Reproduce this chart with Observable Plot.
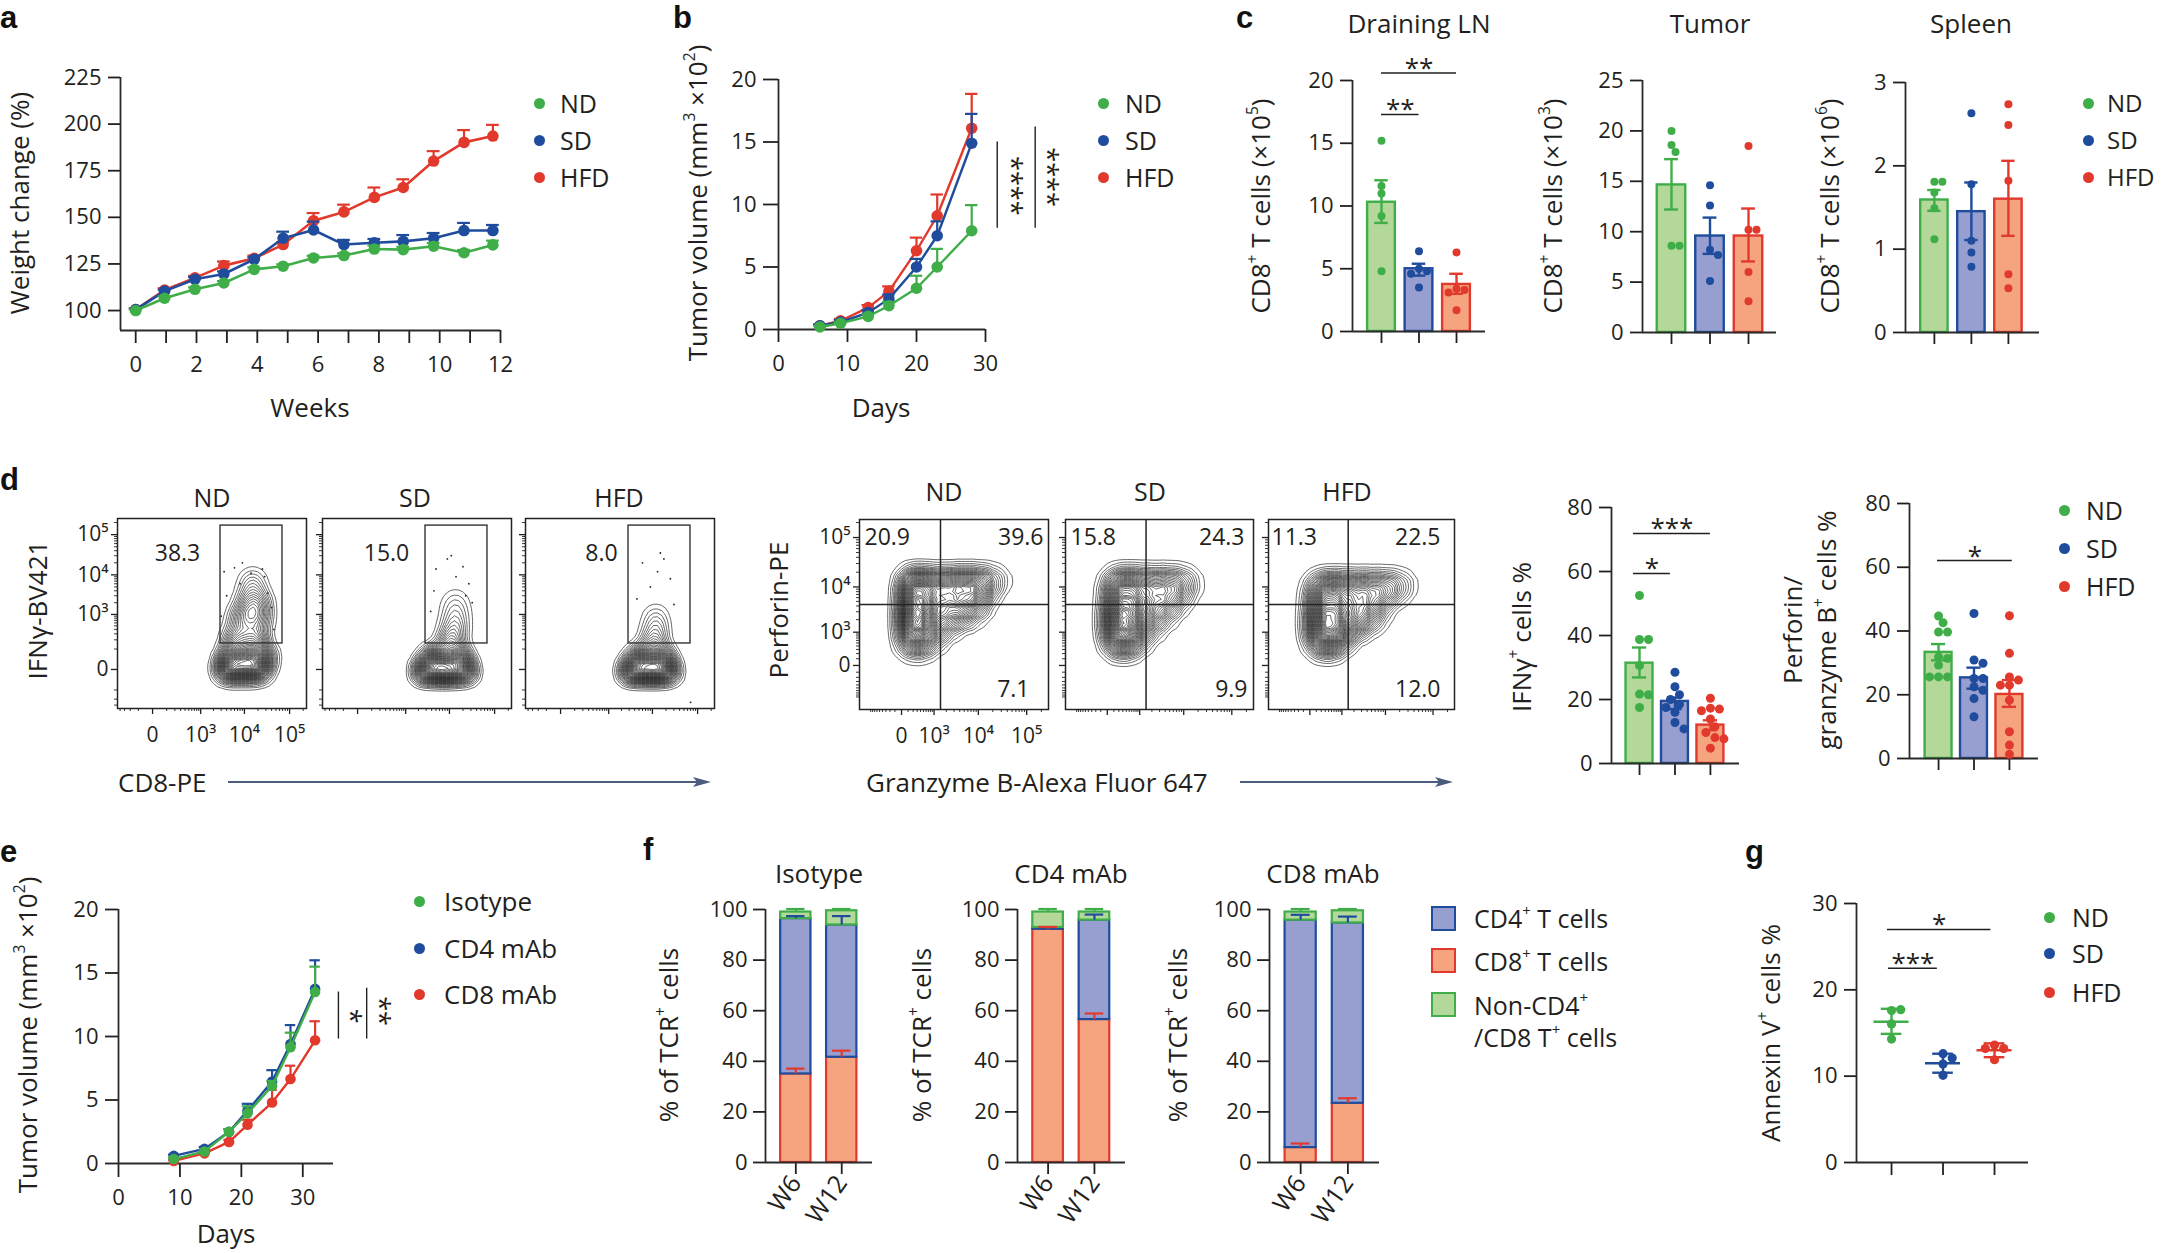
<!DOCTYPE html>
<html>
<head>
<meta charset="utf-8">
<script src="https://cdn.jsdelivr.net/npm/d3@7"></script>
<script src="https://cdn.jsdelivr.net/npm/@observablehq/plot@0.6"></script>
<style>
html,body{margin:0;padding:0;background:#fff;}
#fig{position:relative;width:2165px;height:1253px;overflow:hidden;background:#fff;font-family:"Open Sans",Roboto,"Liberation Sans",sans-serif;color:#231f20;}
.t{position:absolute;white-space:nowrap;line-height:1;}
.t sup{font-size:0.6em;line-height:0;vertical-align:0.75em;}
.L{position:absolute;font-family:"Liberation Sans",Arial,sans-serif;font-weight:bold;line-height:1;font-size:31px;color:#111;}
.dot{position:absolute;border-radius:50%;}
.sq{position:absolute;box-sizing:border-box;}
#fig svg{position:absolute;overflow:visible;}
</style>
</head>
<body>
<div id="fig"></div>
<script>
// ================= DATA =================
const groups = ["ND", "SD", "HFD"];

// a: weight change (%)
const weeksA = [0, 0.95, 1.95, 2.9, 3.9, 4.85, 5.85, 6.85, 7.85, 8.8, 9.8, 10.8, 11.75];
const weightND = [100, 106.6, 111.4, 114.8, 122.1, 123.8, 128.2, 129.5, 133.0, 132.7, 134.5, 131.0, 135.2];
const weightNDtop = [100.6, 107.6, 112.4, 115.8, 123.2, 124.8, 129.4, 130.7, 134.8, 134.2, 136.3, 132.5, 137.5];
const weightSD = [100.5, 110.4, 116.8, 119.6, 127.5, 138.8, 143.2, 135.4, 136.4, 137.1, 138.8, 142.9, 142.9];
const weightSDtop = [101.1, 111.2, 118.0, 121.0, 128.6, 142.3, 147.7, 137.9, 138.4, 140.5, 141.6, 147.0, 145.9];
const weightHFD = [100.5, 111.0, 117.5, 124.1, 128.0, 135.4, 148.2, 152.9, 160.7, 166.0, 180.2, 190.2, 193.6];
const weightHFDtop = [101.1, 112.0, 118.6, 126.3, 129.5, 136.8, 152.3, 156.8, 166.0, 170.4, 185.5, 196.8, 199.6];

// b: tumour volume
const daysB = [6, 9, 13, 16, 20, 23, 28];
const tumND = [0.2, 0.5, 1.05, 1.9, 3.3, 5.0, 7.9];
const tumNDtop = [0.3, 0.6, 1.2, 2.2, 4.3, 6.45, 9.95];
const tumSD = [0.3, 0.6, 1.35, 2.45, 5.0, 7.5, 14.9];
const tumSDtop = [0.4, 0.75, 1.55, 2.8, 5.65, 8.65, 17.25];
const tumHFD = [0.3, 0.7, 1.75, 3.05, 6.3, 9.1, 16.1];
const tumHFDtop = [0.4, 0.85, 1.95, 3.45, 7.35, 10.8, 18.85];
const sigB = [
  {x: 31.7, y1: 8.1, y2: 15.0, tx: 33.6, ty: 11.5, label: "****"},
  {x: 37.2, y1: 8.1, y2: 16.2, tx: 38.9, ty: 12.2, label: "****"}
];

// c: CD8+ T cells
const dlnMean = [10.3, 5.0, 3.75], dlnLo = [8.65, 4.45, 3.0], dlnHi = [12.05, 5.4, 4.6];
const dlnND = [15.2, 11.6, 11.0, 9.2, 4.8], dlnSD = [6.4, 5.0, 4.8, 4.6, 3.5], dlnHFD = [6.3, 3.4, 3.3, 3.1, 1.7];
const sigDLN = [{x1: 0, x2: 2, y: 20.6, label: "**"}, {x1: 0, x2: 1, y: 17.3, label: "**"}];
const tumCMean = [14.64, 9.57, 9.57], tumCLo = [12.2, 7.8, 7.05], tumCHi = [17.2, 11.4, 12.3];
const tumCND = [20.0, 18.6, 17.9, 8.6, 8.6], tumCSD = [14.6, 12.6, 8.2, 7.7, 5.1], tumCHFD = [18.5, 10.2, 10.2, 6.0, 3.1];
const splMean = [1.59, 1.45, 1.6], splLo = [1.46, 1.11, 1.16], splHi = [1.71, 1.8, 2.06];
const splND = [1.81, 1.81, 1.68, 1.49, 1.12], splSD = [2.63, 1.78, 1.1, 0.96, 0.79], splHFD = [2.74, 2.49, 1.82, 0.7, 0.53];

// d: flow cytometry (contour cluster centres: fluorescence x, y, relative weight; sparse events x, y)
const ifnBlobND = [[4190, 3, 8], [9070, 3, 9], [19500, 3, 8], [5420, 50, 6], [12900, 50, 7], [25100, 50, 5], [7000, 219, 5], [17700, 219, 5], [9070, 785, 4], [19500, 785, 4], [11700, 1910, 3], [21600, 1910, 3], [15100, 4550, 2], [15100, 8100, 1]];
const ifnBlobSD = [[3210, -3, 8], [7790, -3, 9], [19500, -3, 7], [4640, 39, 6], [15100, 39, 6], [10550, 154, 4], [12900, 423, 2.5], [13600, 1060, 1.5], [13600, 2270, 0.8]];
const ifnBlobHFD = [[3780, -3, 8], [9070, -3, 9], [19500, -3, 7], [5420, 39, 6], [15100, 39, 6], [10550, 154, 3.5], [11700, 423, 1.8], [11700, 940, 0.9]];
const ifnEvtND = [[3500, 12000], [6000, 15000], [9000, 20000], [14000, 11000], [28000, 9000], [4000, 3000], [33000, 3500], [3000, 900], [40000, 1500], [25000, 14000], [8000, 6000], [45000, 400]];
const ifnEvtSD = [[5000, 14000], [9000, 25000], [14000, 9000], [20000, 16000], [27000, 6000], [4500, 4000], [32000, 2000], [3800, 1200], [11000, 30000], [23000, 3000]];
const ifnEvtHFD = [[6000, 20000], [13000, 12000], [9000, 5000], [18000, 25000], [25000, 8000], [4500, 2500], [30000, 1800], [15000, 35000], [70000, -250]];
const ifnGate = [2900, 69600, 154, 168000];
const ifnPct = ["38.3", "15.0", "8.0"];
const gzBlobND = [
  [166, 12900, 5], [431, 12900, 5], [1030, 12900, 4], [2371, 12900, 5], [5096, 12900, 6], [10620, 12900, 5], [21830, 12900, 3],
  [166, 7320, 6], [431, 7320, 5], [1030, 7320, 5], [2371, 7320, 5], [5096, 7320, 6], [10620, 7320, 4],
  [166, 3895, 7], [431, 3895, 6], [1030, 3895, 4], [2371, 3895, 4], [5096, 3895, 4], [9640, 3895, 3],
  [166, 2124, 8], [431, 2124, 6], [1158, 2124, 4], [2632, 2124, 3], [5096, 2124, 2],
  [166, 1043, 7], [539, 1043, 5], [1376, 1043, 3],
  [200, 481, 5], [578, 481, 3]
];
const gzBlobSD = [
  [166, 12900, 4], [431, 12900, 4], [1030, 12900, 4], [2371, 12900, 4], [5096, 12900, 4], [10620, 12900, 3],
  [166, 7320, 5], [431, 7320, 5], [1030, 7320, 4], [2371, 7320, 4], [5096, 7320, 4], [9640, 7320, 2],
  [166, 3895, 6], [431, 3895, 6], [1030, 3895, 5], [2371, 3895, 4], [5096, 3895, 3],
  [166, 2124, 8], [431, 2124, 7], [1158, 2124, 5], [2632, 2124, 3],
  [166, 1043, 8], [539, 1043, 6], [1376, 1043, 3],
  [200, 481, 6], [578, 481, 4]
];
const gzBlobHFD = [
  [166, 10700, 3], [431, 10700, 4], [1030, 10700, 4], [2371, 10700, 4], [5096, 10700, 4], [10620, 10700, 4], [21830, 10700, 2.5],
  [166, 6400, 4], [431, 6400, 5], [1030, 6400, 4], [2371, 6400, 4], [5096, 6400, 4], [10620, 6400, 3],
  [166, 3600, 5], [431, 3600, 6], [1030, 3600, 5], [2371, 3600, 4], [5096, 3600, 4],
  [166, 2000, 6], [431, 2000, 7], [1158, 2000, 6], [2632, 2000, 5], [5096, 2000, 2],
  [166, 1043, 7], [539, 1043, 7], [1376, 1043, 5],
  [200, 481, 5], [578, 481, 5]
];
const gzQuad = [1450, 4300];
const gzPct = [["20.9", "39.6", "7.1"], ["15.8", "24.3", "9.9"], ["11.3", "22.5", "12.0"]];

const ifnMean = [31.35, 19.4, 12.0], ifnLo = [26.9, 17.0, 10.4], ifnHi = [36.25, 20.6, 13.5];
const ifnND = [52.5, 38.75, 38.75, 30.6, 21.7, 21.5, 17.5];
const ifnSD = [28.5, 24.0, 21.5, 20.0, 18.5, 17.5, 16.0, 12.8, 10.8];
const ifnHFD = [20.4, 17.3, 17.0, 16.5, 13.9, 11.5, 9.7, 8.1, 7.7, 4.8];
const sigIFN = [{x1: -0.17, x2: 2.0, y: 71.9, label: "***"}, {x1: -0.17, x2: 0.87, y: 59.4, label: "*"}];
const pgMean = [33.3, 25.3, 20.1], pgLo = [30.8, 21.9, 16.2], pgHi = [35.9, 28.5, 24.6];
const pgND = [44.7, 42.6, 39.7, 39.7, 31.9, 31.4, 29.3, 25.6, 25.6, 25.6];
const pgSD = [45.5, 30.9, 29.9, 25.1, 25.1, 22.5, 21.4, 18.8, 13.1];
const pgHFD = [44.8, 33.0, 25.6, 24.6, 23.0, 23.0, 18.3, 8.4, 4.2, 1.3];
const sigPG = [{x1: -0.03, x2: 2.08, y: 62.1, label: "*"}];

// e: depletion tumour volume
const daysE = [9, 14, 18, 21, 25, 28, 32];
const isoV = [0.35, 0.95, 2.5, 3.95, 6.1, 9.15, 13.5], isoTop = [0.45, 1.1, 2.7, 4.5, 6.5, 10.3, 15.5];
const cd4V = [0.6, 1.15, 2.5, 4.15, 6.45, 9.4, 13.75], cd4Top = [0.7, 1.3, 2.7, 4.7, 7.35, 10.9, 16.0];
const cd8V = [0.2, 0.8, 1.7, 3.05, 4.8, 6.65, 9.7], cd8Top = [0.3, 0.9, 1.85, 3.45, 5.8, 7.7, 11.2];
const sigE = [
  {x: 35.8, y1: 9.8, y2: 13.5, tx: 37.6, ty: 11.6, label: "*"},
  {x: 40.4, y1: 9.8, y2: 13.8, tx: 42.4, ty: 12.0, label: "**"}
];

// f: % of TCR+ cells (W6, W12)
const weeksF = ["W6", "W12"];
const isoCD8 = [35.0, 41.6], isoCD4 = [61.4, 52.3], isoNon = [2.6, 5.6];
const isoErr8 = [37.1, 44.2], isoErr4 = [97.4, 97.4], isoErrN = [100.2, 100.2];
const a4CD8 = [92.2, 56.5], a4CD4 = [0.7, 39.3], a4Non = [6.1, 3.2];
const a4Err8 = [93.1, 58.9], a4Err4 = [null, 98.0], a4ErrN = [100.2, 100.2];
const a8CD8 = [5.9, 23.4], a8CD4 = [89.9, 71.3], a8Non = [3.2, 4.8];
const a8Err8 = [7.5, 25.4], a8Err4 = [97.9, 97.2], a8ErrN = [100.2, 100.2];

// g: Annexin V+ cells %
const annND = [17.6, 17.7, 16.05, 14.3], annSD = [12.6, 12.1, 11.4, 10.1], annHFD = [13.6, 13.2, 13.2, 11.9];
const annMean = [16.3, 11.5, 13.0], annLo = [14.9, 10.4, 12.2], annHi = [17.8, 12.6, 13.8];
const sigAnn = [{x1: -0.08, x2: 1.93, y: 27.0, label: "*"}, {x1: -0.06, x2: 0.89, y: 22.5, label: "***"}];

// ================= STYLE =================
const FONT = "'Open Sans', Roboto, 'Liberation Sans', sans-serif";
const INK = "#231f20", AX = "#2a2a2a";
const GREEN = "#3fae49", BLUE = "#1f4c9c", RED = "#e2392d";
const GREEN_L = "#b3d899", BLUE_L = "#979fd0", RED_L = "#f5a47f";
const colDark = [GREEN, BLUE, RED], colLight = [GREEN_L, BLUE_L, RED_L];
const fig = document.getElementById("fig");

// ================= HELPERS =================
function txt(html, x, y, o = {}) {
  const d = document.createElement("div");
  d.className = "t";
  d.innerHTML = html;
  d.style.fontSize = (o.size || 26) + "px";
  d.style.left = x + "px"; d.style.top = y + "px";
  const tx = o.anchor === "start" ? "0" : o.anchor === "end" ? "-100%" : "-50%";
  d.style.transform = `translate(${tx},-50%)` + (o.rotate ? ` rotate(${o.rotate}deg)` : "");
  fig.appendChild(d);
}
function letter(ch, x, baseline) {
  const d = document.createElement("div");
  d.className = "L"; d.textContent = ch;
  d.style.left = x + "px"; d.style.top = (baseline - 0.846 * 31) + "px";
  fig.appendChild(d);
}
function legend(labels, colors, xDot, xText, ys, size = 25, r = 5.5) {
  labels.forEach((l, i) => {
    const d = document.createElement("div");
    d.className = "dot";
    d.style.width = d.style.height = (2 * r) + "px";
    d.style.left = (xDot - r) + "px"; d.style.top = (ys[i] - r) + "px";
    d.style.background = colors[i];
    fig.appendChild(d);
    txt(l, xText, ys[i], {anchor: "start", size});
  });
}
function arrow(x1, x2, y) {
  const ns = "http://www.w3.org/2000/svg";
  const s = document.createElementNS(ns, "svg");
  const w = x2 - x1;
  s.setAttribute("width", w + 2); s.setAttribute("height", 16);
  s.style.left = x1 + "px"; s.style.top = (y - 8) + "px";
  s.innerHTML = `<line x1="0" y1="8" x2="${w - 8}" y2="8" stroke="#4a5b7b" stroke-width="2.2"/><path d="M${w - 18},3 L${w},8 L${w - 18},13 L${w - 14},8 Z" fill="#4a5b7b"/>`;
  fig.appendChild(s);
}
function mk(frame, pad, opts, marks) {
  const [xl, xr, yt, yb] = frame, [pl, pr, pt, pb] = pad;
  const svg = Plot.plot({
    width: xr - xl + pl + pr, height: yb - yt + pt + pb,
    marginLeft: pl, marginRight: pr, marginTop: pt, marginBottom: pb,
    style: {fontFamily: FONT, fontSize: "22px", color: INK, background: "transparent", overflow: "visible"},
    ...opts, marks
  });
  svg.style.left = (xl - pl) + "px"; svg.style.top = (yt - pt) + "px";
  fig.appendChild(svg);
  return svg;
}
function axisLines(xdom, ydom) {
  return [
    Plot.ruleX([xdom[0]], {y1: () => ydom[0], y2: () => ydom[1], stroke: AX, strokeWidth: 1.8}),
    Plot.ruleY([ydom[0]], {x1: () => xdom[0], x2: () => xdom[1], stroke: AX, strokeWidth: 1.8})
  ];
}
function sigMarks(sig, size = 26, dy = 4) {
  return [
    Plot.ruleY(sig, {y: "y", x1: "x1", x2: "x2", stroke: INK, strokeWidth: 1.5}),
    Plot.text(sig, {x: d => (d.x1 + d.x2) / 2, y: "y", text: "label", lineAnchor: "bottom", dy, fontSize: size, fill: INK})
  ];
}
function dodge(vals, ppu, r) {
  const placed = [];
  return vals.map(v => {
    const y = v * ppu;
    const cands = [0];
    for (let k = 1; k < 30; k++) cands.push(k * r, -k * r);
    for (const c of cands) {
      if (placed.every(p => (p.x - c) ** 2 + (p.y - y) ** 2 >= 0.8 * (2 * r) ** 2)) { placed.push({x: c, y}); return c; }
    }
    return 0;
  });
}
const plain = d => String(d);

function linePanel(frame, pad, cfg) {
  const {xdom, ydom, xticks, xfmt, yticks, ytick, xtick, xpad, series, r, sw, cap, sig} = cfg;
  const marks = [
    Plot.axisY({ticks: yticks, tickFormat: plain, tickSize: ytick, tickPadding: 7, fontSize: 22, label: null, strokeWidth: 1.8}),
    Plot.axisX({ticks: xticks, tickFormat: xfmt, tickSize: xtick, tickPadding: xpad, fontSize: 22, label: null, strokeWidth: 1.8}),
    ...axisLines(xdom, ydom)
  ];
  for (const s of series) {
    const rows = s.x.map((x, i) => ({x, y: s.y[i], top: s.top[i]}));
    marks.push(Plot.line(rows, {x: "x", y: "y", stroke: s.col, strokeWidth: sw}));
    marks.push(Plot.ruleX(rows, {x: "x", y1: "y", y2: "top", stroke: s.col, strokeWidth: 2.2}));
    marks.push(Plot.ruleY(rows, {y: "top", x1: d => d.x - cap, x2: d => d.x + cap, stroke: s.col, strokeWidth: 2.2}));
    marks.push(Plot.dot(rows, {x: "x", y: "y", r, fill: s.col}));
  }
  if (sig) {
    marks.push(Plot.ruleX(sig, {x: "x", y1: "y1", y2: "y2", stroke: INK, strokeWidth: 1.4}));
    marks.push(Plot.text(sig, {x: "tx", y: "ty", text: "label", rotate: 90, fontSize: 27, fill: INK}));
  }
  return mk(frame, pad, {x: {domain: xdom, axis: null}, y: {domain: ydom, axis: null}}, marks);
}

function barDots(frame, cfg) {
  const {xdom, ydom, yticks, mean, lo, hi, dots, sig, half = 0.37, cap = 0.18, r = 4, ytick = 12} = cfg;
  const [xl, xr, yt, yb] = frame;
  const pxIdx = (xr - xl) / (xdom[1] - xdom[0]);
  const ppu = (yb - yt) / (ydom[1] - ydom[0]);
  const bars = mean.map((m, i) => ({i, m, lo: lo[i], hi: hi[i]}));
  const pts = [];
  dots.forEach((arr, i) => {
    const offs = dodge(arr, ppu, r);
    arr.forEach((v, k) => pts.push({i, v, x: i + offs[k] / pxIdx}));
  });
  const marks = [
    Plot.axisY({ticks: yticks, tickFormat: plain, tickSize: ytick, tickPadding: 7, fontSize: 22, label: null, strokeWidth: 1.8}),
    Plot.axisX({ticks: [0, 1, 2], tickFormat: () => "", tickSize: 12, label: null, strokeWidth: 1.8}),
    Plot.rect(bars, {x1: d => d.i - half, x2: d => d.i + half, y1: () => ydom[0], y2: "m", fill: d => colLight[d.i], stroke: d => colDark[d.i], strokeWidth: 2.4}),
    ...axisLines(xdom, ydom),
    Plot.dot(pts, {x: "x", y: "v", r, fill: d => colDark[d.i]}),
    Plot.ruleX(bars, {x: "i", y1: "lo", y2: "hi", stroke: d => colDark[d.i], strokeWidth: 2.4}),
    Plot.ruleY(bars, {y: "hi", x1: d => d.i - cap, x2: d => d.i + cap, stroke: d => colDark[d.i], strokeWidth: 2.4}),
    Plot.ruleY(bars, {y: "lo", x1: d => d.i - cap, x2: d => d.i + cap, stroke: d => colDark[d.i], strokeWidth: 2.4})
  ];
  if (sig) marks.push(...sigMarks(sig));
  return mk(frame, [75, 10, 50, 20], {x: {domain: xdom, axis: null}, y: {domain: ydom, axis: null}}, marks);
}

function stackPanel(frame, cfg) {
  const {cd8, cd4, non, e8, e4, en} = cfg;
  const xdom = [-0.66, 1.67], ydom = [0, 100];
  const segs = [], errs = [];
  for (let i = 0; i < 2; i++) {
    const a = cd8[i], b = a + cd4[i], c = b + non[i];
    segs.push({i, y1: 0, y2: a, f: RED_L, s: RED}, {i, y1: a, y2: b, f: BLUE_L, s: BLUE}, {i, y1: b, y2: c, f: GREEN_L, s: GREEN});
    errs.push({i, from: a, to: e8[i], s: RED});
    if (e4[i] != null) errs.push({i, from: b, to: e4[i], s: BLUE});
    errs.push({i, from: c, to: en[i], s: GREEN});
  }
  const half = 0.33, cap = 0.2;
  const marks = [
    Plot.axisY({ticks: [0, 20, 40, 60, 80, 100], tickFormat: plain, tickSize: 12, tickPadding: 6, fontSize: 22, label: null, strokeWidth: 1.8}),
    Plot.axisX({ticks: [0, 1], tickFormat: i => weeksF[i], tickSize: 12, tickPadding: 4, tickRotate: -55, fontSize: 25, label: null, strokeWidth: 1.8}),
    Plot.rect(segs, {x1: d => d.i - half, x2: d => d.i + half, y1: "y1", y2: "y2", fill: "f", stroke: "s", strokeWidth: 2.2}),
    ...axisLines(xdom, ydom),
    Plot.ruleX(errs, {x: "i", y1: "from", y2: "to", stroke: "s", strokeWidth: 2.2}),
    Plot.ruleY(errs, {y: "to", x1: d => d.i - cap, x2: d => d.i + cap, stroke: "s", strokeWidth: 2.2})
  ];
  return mk(frame, [70, 10, 20, 80], {x: {domain: xdom, axis: null}, y: {domain: ydom, axis: null}}, marks);
}

const supD = {3: "³", 4: "⁴", 5: "⁵"};
const fmtFlow = d => d === 0 ? "0" : "10" + supD[Math.round(Math.log10(d))];
const logMinor = [2, 3, 4, 5, 6, 7, 8, 9].flatMap(k => [k * 1e3, k * 1e4]).concat([2e5]);
const linMinor = [1, 2, 3, 4, 5, 6, 7, 8, 9].map(k => k * 100);

function flowPanel(frame, cfg) {
  const {xc, yc, xdom, ydom, blobs, events, bw, th, gate, quad, texts, labels} = cfg;
  const data = blobs.map(([x, y, w]) => ({x, y, w}));
  const xMinor = linMinor.map(v => -v).filter(v => v > xdom[0]).concat(linMinor, logMinor);
  const yMinor = linMinor.map(v => -v).filter(v => v > ydom[0]).concat(linMinor, logMinor);
  const marks = [
    Plot.density(data, {x: "x", y: "y", weight: "w", bandwidth: bw, thresholds: th, stroke: "#161616", strokeWidth: 0.65, clip: true})
  ];
  if (events) marks.push(Plot.dot(events, {x: d => d[0], y: d => d[1], r: 0.9, fill: "#222", stroke: null}));
  if (gate) marks.push(Plot.rect([gate], {x1: d => d[0], x2: d => d[1], y1: d => d[2], y2: d => d[3], fill: "none", stroke: "#333", strokeWidth: 1.4}));
  if (quad) {
    marks.push(Plot.ruleX([quad[0]], {stroke: "#222", strokeWidth: 1.5}));
    marks.push(Plot.ruleY([quad[1]], {stroke: "#222", strokeWidth: 1.5}));
  }
  for (const t of texts) marks.push(Plot.text([t.s], {frameAnchor: "top-left", dx: t.dx, dy: t.dy, text: d => d, textAnchor: t.a || "middle", lineAnchor: "middle", fontSize: 23, fill: INK}));
  marks.push(Plot.frame({stroke: "#222", strokeWidth: 1.5}));
  marks.push(Plot.axisY({ticks: [0, 1e3, 1e4, 1e5], tickSize: 6, tickPadding: 3, tickFormat: labels ? fmtFlow : () => "", fontSize: 21, label: null, strokeWidth: 1.3}));
  marks.push(Plot.axisY({ticks: yMinor, tickSize: 3, tickFormat: () => "", label: null, strokeWidth: 0.9}));
  marks.push(Plot.axisX({ticks: [0, 1e3, 1e4, 1e5], tickSize: 6, tickPadding: 13, tickFormat: labels ? fmtFlow : () => "", fontSize: 21, label: null, strokeWidth: 1.3}));
  marks.push(Plot.axisX({ticks: xMinor, tickSize: 3, tickFormat: () => "", label: null, strokeWidth: 0.9}));
  return mk(frame, [60, 10, 10, 50], {
    x: {type: "symlog", constant: xc, domain: xdom, axis: null},
    y: {type: "symlog", constant: yc, domain: ydom, axis: null}
  }, marks);
}

// ================= PANEL a =================
letter("a", 0, 28);
linePanel([120, 500, 77, 330], [115, 30, 20, 60], {
  xdom: [-0.5, 12], ydom: [89.3, 225], xticks: d3.range(0, 13), xfmt: d => d % 2 === 0 ? String(d) : "",
  yticks: [100, 125, 150, 175, 200, 225], ytick: 12, xtick: 13, xpad: 13, r: 5.8, sw: 2.6, cap: 0.21,
  series: [
    {x: weeksA, y: weightHFD, top: weightHFDtop, col: RED},
    {x: weeksA, y: weightSD, top: weightSDtop, col: BLUE},
    {x: weeksA, y: weightND, top: weightNDtop, col: GREEN}
  ]
});
txt("Weight change (%)", 19, 203, {rotate: -90});
txt("Weeks", 310, 407);
legend(groups, colDark, 539, 560, [103, 140, 177]);

// ================= PANEL b =================
letter("b", 673, 28);
linePanel([778, 985, 79, 329], [80, 100, 20, 60], {
  xdom: [0, 30], ydom: [0, 20], xticks: [0, 10, 20, 30], xfmt: plain,
  yticks: [0, 5, 10, 15, 20], ytick: 15, xtick: 13, xpad: 13, r: 5.8, sw: 2.4, cap: 0.9, sig: sigB,
  series: [
    {x: daysB, y: tumHFD, top: tumHFDtop, col: RED},
    {x: daysB, y: tumSD, top: tumSDtop, col: BLUE},
    {x: daysB, y: tumND, top: tumNDtop, col: GREEN}
  ]
});
txt("Tumor volume (mm<sup>3</sup> ×10<sup>2</sup>)", 697, 203, {rotate: -90});
txt("Days", 881, 407);
legend(groups, colDark, 1103, 1125, [103, 140, 177]);

// ================= PANEL c =================
letter("c", 1236, 28);
txt("Draining LN", 1419, 23); txt("Tumor", 1710, 23); txt("Spleen", 1971, 23);
barDots([1352, 1485, 80, 331], {xdom: [-0.773, 2.773], ydom: [0, 20], yticks: [0, 5, 10, 15, 20],
  mean: dlnMean, lo: dlnLo, hi: dlnHi, dots: [dlnND, dlnSD, dlnHFD], sig: sigDLN});
barDots([1642, 1776, 80, 332], {xdom: [-0.753, 2.727], ydom: [0, 25], yticks: [0, 5, 10, 15, 20, 25],
  mean: tumCMean, lo: tumCLo, hi: tumCHi, dots: [tumCND, tumCSD, tumCHFD]});
barDots([1905, 2039, 82, 332], {xdom: [-0.78, 2.84], ydom: [0, 3], yticks: [0, 1, 2, 3],
  mean: splMean, lo: splLo, hi: splHi, dots: [splND, splSD, splHFD]});
txt("CD8<sup>+</sup> T cells (×10<sup>5</sup>)", 1260, 206, {rotate: -90});
txt("CD8<sup>+</sup> T cells (×10<sup>3</sup>)", 1552, 206, {rotate: -90});
txt("CD8<sup>+</sup> T cells (×10<sup>6</sup>)", 1829, 206, {rotate: -90});
legend(groups, colDark, 2088, 2107, [103, 140, 177], 24);

// ================= PANEL d =================
letter("d", 0, 490);
const ifnFrames = [[117, 306, 518, 708], [322, 511, 518, 708], [525, 714, 518, 708]];
const ifnBlobs = [ifnBlobND, ifnBlobSD, ifnBlobHFD];
const ifnEvents = [ifnEvtND, ifnEvtSD, ifnEvtHFD];
const ifnTextX = [60, 64, 76];
ifnFrames.forEach((f, k) => flowPanel(f, {
  xc: 95, yc: 45, xdom: [-469, 236000], ydom: [-374, 252000], blobs: ifnBlobs[k], events: ifnEvents[k], bw: 6.5, th: 36,
  gate: ifnGate, texts: [{s: ifnPct[k], dx: ifnTextX[k], dy: 35}], labels: k === 0
}));
txt("ND", 212, 497, {size: 25}); txt("SD", 415, 497, {size: 25}); txt("HFD", 619, 497, {size: 25});
txt("IFNγ-BV421", 37, 610, {rotate: -90});
txt("CD8-PE", 118, 782, {anchor: "start"});
arrow(228, 711, 782);

const gzFrames = [[859, 1048, 519, 709], [1065, 1253, 519, 709], [1268, 1454, 519, 709]];
const gzBlobs = [gzBlobND, gzBlobSD, gzBlobHFD];
const gzTextPos = [[[5, 18], [184, 18], [170, 170]], [[5, 18], [179, 18], [182, 170]], [[3, 18], [172, 18], [172, 170]]];
gzFrames.forEach((f, k) => flowPanel(f, {
  xc: 275, yc: 275, xdom: [-1718, 280000], ydom: [-1820, 230000], blobs: gzBlobs[k], bw: 8.5, th: 40,
  quad: gzQuad, labels: k === 0,
  texts: gzPct[k].map((s, j) => ({s, a: j === 0 ? "start" : "end", dx: gzTextPos[k][j][0], dy: gzTextPos[k][j][1]}))
}));
txt("ND", 944, 491, {size: 25}); txt("SD", 1150, 491, {size: 25}); txt("HFD", 1347, 491, {size: 25});
txt("Perforin-PE", 778, 610, {rotate: -90});
txt("Granzyme B-Alexa Fluor 647", 866, 782, {anchor: "start"});
arrow(1240, 1453, 782);

barDots([1611, 1739, 507, 763], {xdom: [-0.79, 2.82], ydom: [0, 80], yticks: [0, 20, 40, 60, 80],
  mean: ifnMean, lo: ifnLo, hi: ifnHi, dots: [ifnND, ifnSD, ifnHFD], sig: sigIFN, half: 0.38, r: 4.5, cap: 0.2});
barDots([1909, 2038, 503, 758], {xdom: [-0.82, 2.82], ydom: [0, 80], yticks: [0, 20, 40, 60, 80],
  mean: pgMean, lo: pgLo, hi: pgHi, dots: [pgND, pgSD, pgHFD], sig: sigPG, half: 0.38, r: 4.5, cap: 0.2});
txt("IFNγ<sup>+</sup> cells %", 1521, 637, {rotate: -90});
txt("Perforin/", 1792, 630, {rotate: -90});
txt("granzyme B<sup>+</sup> cells %", 1826, 630, {rotate: -90});
legend(groups, colDark, 2064, 2086, [510, 548, 586]);

// ================= PANEL e =================
letter("e", 0, 862);
linePanel([118, 333, 909, 1163], [80, 80, 20, 60], {
  xdom: [0, 35], ydom: [0, 20], xticks: [0, 10, 20, 30], xfmt: plain,
  yticks: [0, 5, 10, 15, 20], ytick: 13, xtick: 14, xpad: 12, r: 5.3, sw: 2.4, cap: 0.85, sig: sigE,
  series: [
    {x: daysE, y: cd8V, top: cd8Top, col: RED},
    {x: daysE, y: cd4V, top: cd4Top, col: BLUE},
    {x: daysE, y: isoV, top: isoTop, col: GREEN}
  ]
});
txt("Tumor volume (mm<sup>3</sup> ×10<sup>2</sup>)", 27, 1035, {rotate: -90});
txt("Days", 226, 1233);
legend(["Isotype", "CD4 mAb", "CD8 mAb"], [GREEN, BLUE, RED], 419, 444, [901, 948, 994], 26);

// ================= PANEL f =================
letter("f", 643, 860);
txt("Isotype", 819, 873); txt("CD4 mAb", 1071, 873); txt("CD8 mAb", 1323, 873);
stackPanel([765, 872, 909, 1162], {cd8: isoCD8, cd4: isoCD4, non: isoNon, e8: isoErr8, e4: isoErr4, en: isoErrN});
stackPanel([1017, 1125, 909, 1162], {cd8: a4CD8, cd4: a4CD4, non: a4Non, e8: a4Err8, e4: a4Err4, en: a4ErrN});
stackPanel([1269, 1379, 909, 1162], {cd8: a8CD8, cd4: a8CD4, non: a8Non, e8: a8Err8, e4: a8Err4, en: a8ErrN});
[668, 921, 1177].forEach(x => txt("% of TCR<sup>+</sup> cells", x, 1035, {rotate: -90}));
[[906, BLUE_L, BLUE], [948, RED_L, RED], [992, GREEN_L, GREEN]].forEach(([y, f, s]) => {
  const d = document.createElement("div");
  d.className = "sq";
  d.style.left = "1431px"; d.style.top = y + "px"; d.style.width = "25px"; d.style.height = "25px";
  d.style.background = f; d.style.border = "2.5px solid " + s;
  fig.appendChild(d);
});
txt("CD4<sup>+</sup> T cells", 1474, 918, {anchor: "start", size: 25});
txt("CD8<sup>+</sup> T cells", 1474, 961, {anchor: "start", size: 25});
txt("Non-CD4<sup>+</sup>", 1474, 1005, {anchor: "start", size: 25});
txt("/CD8 T<sup>+</sup> cells", 1474, 1037, {anchor: "start", size: 25});

// ================= PANEL g =================
letter("g", 1745, 862);
(function () {
  const frame = [1856, 2028, 903, 1162];
  const xdom = [-0.68, 2.66], ydom = [0, 30];
  const pxIdx = (frame[1] - frame[0]) / (xdom[1] - xdom[0]);
  const ppu = (frame[3] - frame[2]) / 30;
  const stats = annMean.map((m, i) => ({i, m, lo: annLo[i], hi: annHi[i]}));
  const pts = [];
  [annND, annSD, annHFD].forEach((arr, i) => {
    const offs = dodge(arr, ppu, 4.6);
    arr.forEach((v, k) => pts.push({i, v, x: i + offs[k] / pxIdx}));
  });
  const marks = [
    Plot.axisY({ticks: [0, 10, 20, 30], tickFormat: plain, tickSize: 12, tickPadding: 7, fontSize: 22, label: null, strokeWidth: 1.8}),
    Plot.axisX({ticks: [0, 1, 2], tickFormat: () => "", tickSize: 13, label: null, strokeWidth: 1.8}),
    ...axisLines(xdom, ydom),
    Plot.dot(pts, {x: "x", y: "v", r: 4.6, fill: d => colDark[d.i]}),
    Plot.ruleY(stats, {y: "m", x1: d => d.i - 0.34, x2: d => d.i + 0.34, stroke: d => colDark[d.i], strokeWidth: 2.6}),
    Plot.ruleX(stats, {x: "i", y1: "lo", y2: "hi", stroke: d => colDark[d.i], strokeWidth: 2.4}),
    Plot.ruleY(stats, {y: "hi", x1: d => d.i - 0.2, x2: d => d.i + 0.2, stroke: d => colDark[d.i], strokeWidth: 2.4}),
    Plot.ruleY(stats, {y: "lo", x1: d => d.i - 0.2, x2: d => d.i + 0.2, stroke: d => colDark[d.i], strokeWidth: 2.4}),
    ...sigMarks(sigAnn)
  ];
  mk(frame, [70, 10, 20, 20], {x: {domain: xdom, axis: null}, y: {domain: ydom, axis: null}}, marks);
})();
txt("Annexin V<sup>+</sup> cells %", 1770, 1033, {rotate: -90});
legend(groups, colDark, 2049, 2072, [917, 953, 992]);
</script>
</body>
</html>
